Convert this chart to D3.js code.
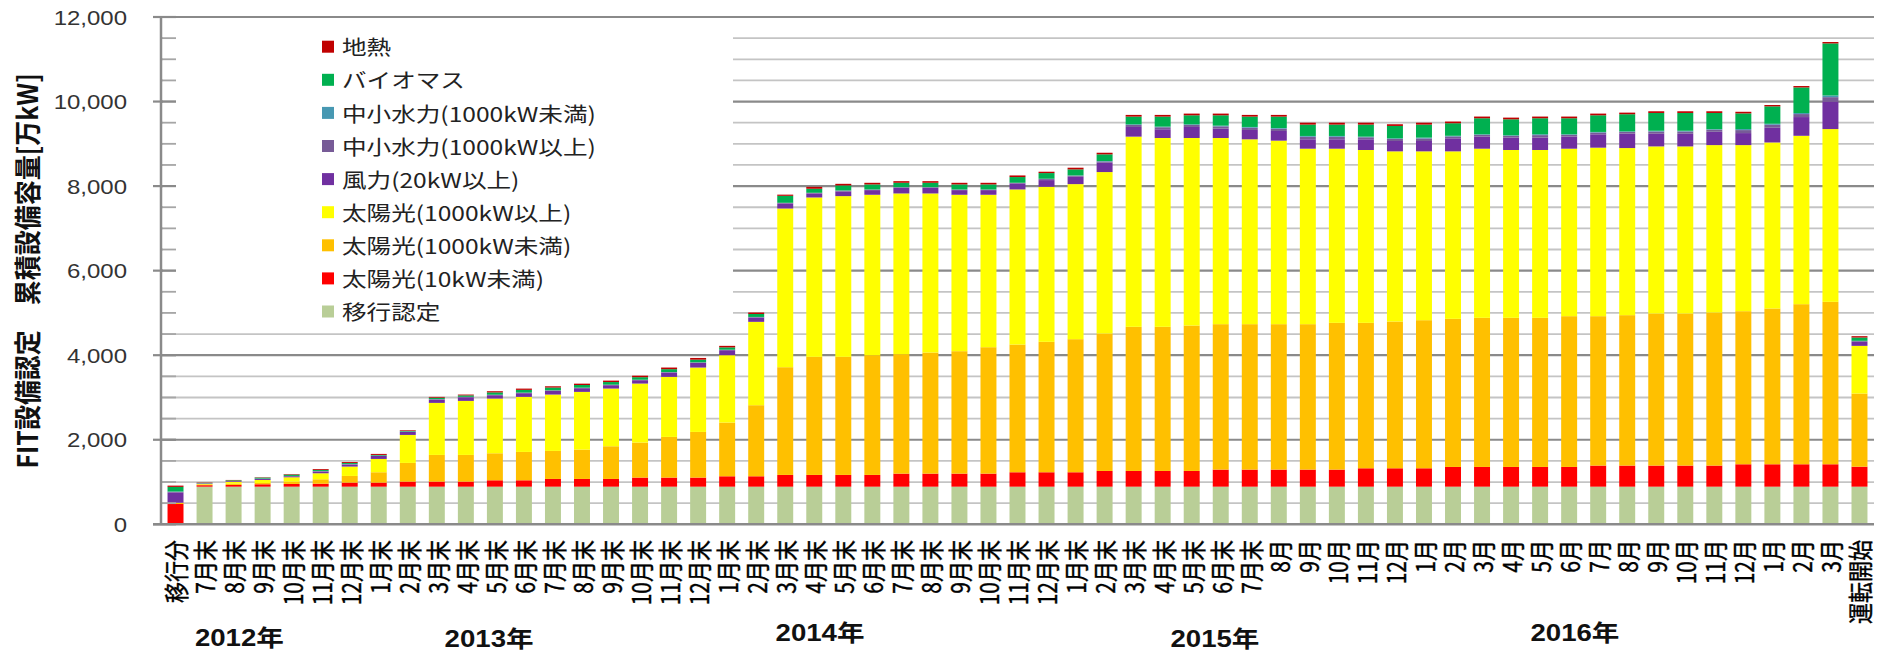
<!DOCTYPE html>
<html><head><meta charset="utf-8">
<script src="https://cdn.jsdelivr.net/npm/d3@7"></script>
<style>body{margin:0;background:#fff}</style>
</head><body>
<svg id="c" width="1887" height="651"></svg>
<script>
const categories = ["移行分","7月末","8月末","9月末","10月末","11月末","12月末","1月末","2月末","3月末","4月末","5月末","6月末","7月末","8月末","9月末","10月末","11月末","12月末","1月末","2月末","3月末","4月末","5月末","6月末","7月末","8月末","9月末","10月末","11月末","12月末","1月末","2月末","3月末","4月末","5月末","6月末","7月末","8月","9月","10月","11月","12月","1月","2月","3月","4月","5月","6月","7月","8月","9月","10月","11月","12月","1月","2月","3月","運転開始"];
const seriesNames = ["移行認定","太陽光(10kW未満)","太陽光(1000kW未満)","太陽光(1000kW以上)","風力(20kW以上)","中小水力(1000kW以上)","中小水力(1000kW未満)","バイオマス","地熱"];
const ikou = [0,890,890,890,890,890,890,890,890,890,890,890,890,890,890,890,890,890,890,890,890,890,890,890,890,890,890,890,890,890,890,890,890,890,890,890,890,890,890,890,890,890,890,890,890,890,890,890,890,890,890,890,890,890,890,890,890,890,890];
const solar10 = [480,35,41,57,65,70,96,96,120,120,120,151,151,183,183,183,215,215,215,246,246,278,278,278,278,309,309,309,309,341,341,341,372,372,372,372,404,404,404,404,404,435,435,435,467,467,467,467,467,499,499,499,499,499,530,530,530,530,473];
const solarMid = [30,20,32,31,55,105,158,245,442,631,631,639,671,663,694,773,828,962,1080,1270,1681,2548,2793,2793,2832,2825,2864,2896,2990,3021,3085,3148,3251,3409,3409,3440,3440,3440,3440,3440,3471,3440,3472,3503,3503,3527,3527,3527,3566,3534,3558,3597,3597,3621,3621,3685,3787,3842,1730];
const solarLarge = [0,10,39,71,102,142,221,315,662,1231,1278,1294,1302,1333,1365,1365,1396,1420,1523,1594,1972,3754,3770,3802,3795,3802,3763,3700,3606,3669,3668,3668,3819,4499,4467,4436,4404,4373,4341,4151,4120,4089,4025,3994,3962,4001,3970,3970,3962,3986,3953,3953,3953,3960,3929,3927,3983,4087,1128];
const wind = [245,10,16,24,24,40,47,71,71,78,86,79,87,87,87,79,79,103,111,118,101,119,95,111,110,134,134,110,110,142,158,174,221,229,206,261,222,221,229,222,222,253,245,245,308,285,292,292,285,316,340,299,299,315,284,348,443,653,95];
const hydroLarge = [12,5,6,6,6,11,12,6,8,9,8,9,11,11,10,10,9,9,10,9,11,12,12,17,12,12,12,12,12,12,24,24,30,48,48,48,53,53,53,60,60,48,48,60,45,42,42,60,42,42,41,53,53,48,71,71,71,102,18];
const hydroSmall = [8,2,2,2,2,4,4,2,2,3,2,3,3,3,3,3,3,3,3,3,4,4,4,6,4,4,4,4,4,4,8,8,10,15,15,15,17,18,17,19,19,15,15,20,15,14,14,20,14,14,14,18,18,15,24,24,24,40,6];
const biomass = [110,8,15,24,32,24,24,16,15,33,35,55,65,65,63,62,60,68,63,55,70,165,95,119,119,103,103,119,119,135,134,142,158,182,237,213,245,245,270,269,269,285,293,308,297,379,378,379,379,394,405,421,421,382,371,411,606,1231,78];
const geothermal = [30,8,8,8,12,20,22,24,15,19,19,28,30,30,32,34,36,38,40,36,35,28,45,38,38,38,38,38,38,38,32,40,38,40,40,40,40,40,40,45,45,45,40,45,40,40,40,40,40,40,38,40,40,40,38,32,33,33,32];
const yTicks = [0,2000,4000,6000,8000,10000,12000];
const yearLabels = ["2012年","2013年","2014年","2015年","2016年"];

// layout (not data)
const yearPos = [2.2, 10.8, 22.2, 35.8, 48.2];
const yearBase = [646, 647, 641, 647, 641];
const colors = ["#B9CE97","#FF0000","#FFC000","#FFFF00","#7030A0","#775B97","#4798B2","#00B050","#C00000"];

const seriesArrays = [ikou, solar10, solarMid, solarLarge, wind, hydroLarge, hydroSmall, biomass, geothermal];
const rows = categories.map((c, i) => {
  const r = {i};
  seriesNames.forEach((s, k) => r[s] = seriesArrays[k][i]);
  return r;
});

const svg = d3.select("#c");
svg.append("rect").attr("width",1887).attr("height",651).attr("fill","#fff");

const X0 = 161, X1 = 1874;
const x = d3.scaleBand().domain(d3.range(categories.length)).range([X0, X1]).paddingInner(0.45).paddingOuter(0.225);
const y = d3.scaleLinear().domain([0, 12000]).range([524.3, 17]);

// gridlines
const gridVals = d3.range(500, 12001, 500);
svg.append("g").selectAll("line").data(gridVals).join("line")
  .attr("x1", X0).attr("x2", X1)
  .attr("y1", d => y(d)).attr("y2", d => y(d))
  .attr("stroke", d => d % 2000 === 0 ? "#8a8a8a" : "#c4c4c4")
  .attr("stroke-width", d => d % 2000 === 0 ? 2.2 : 1.8);

// legend backdrop
svg.append("rect").attr("x", X0 + 2).attr("y", 21).attr("width", 570).attr("height", 304).attr("fill", "#fff");

// bars
const stacked = d3.stack().keys(seriesNames)(rows);
svg.append("g").selectAll("g").data(stacked).join("g")
  .attr("fill", (d, k) => colors[k])
  .selectAll("rect").data(d => d).join("rect")
  .attr("x", (d, i) => x(i)).attr("width", x.bandwidth())
  .attr("y", d => y(d[1])).attr("height", d => Math.max(0, y(d[0]) - y(d[1])));

// minor ticks (inside)
svg.append("g").selectAll("line").data(gridVals).join("line")
  .attr("x1", X0).attr("x2", X0 + 15)
  .attr("y1", d => y(d)).attr("y2", d => y(d))
  .attr("stroke", "#a6a6a6").attr("stroke-width", 1.8);
// major ticks
svg.append("g").selectAll("line").data(yTicks).join("line")
  .attr("x1", X0 - 8).attr("x2", X0 + 15)
  .attr("y1", d => y(d)).attr("y2", d => y(d))
  .attr("stroke", "#8a8a8a").attr("stroke-width", 2.2);

// axis lines
svg.append("line").attr("x1", X0).attr("x2", X0).attr("y1", y(12000)).attr("y2", y(0))
  .attr("stroke", "#8a8a8a").attr("stroke-width", 2.5);
svg.append("line").attr("x1", X0 - 8).attr("x2", X1).attr("y1", y(0)).attr("y2", y(0))
  .attr("stroke", "#8a8a8a").attr("stroke-width", 2.5);

// y axis labels via d3 axis
const gA = svg.append("g").attr("transform", `translate(${X0},0)`)
  .call(d3.axisLeft(y).tickValues(yTicks).tickFormat(d3.format(",")).tickSize(0).tickPadding(0));
gA.select(".domain").remove();
gA.selectAll(".tick line").remove();
gA.attr("font-family", "'Liberation Sans', Arial, sans-serif").attr("font-size", 20);
gA.selectAll("text").attr("x", null).attr("dy", "0.36em")
  .attr("transform", "translate(-34,0) scale(1.2,1)").attr("fill", "#333").attr("text-anchor", "end");

// x category labels (rotated -90, reading upward, anchored at top)
svg.append("g").selectAll("text").data(categories).join("text")
  .attr("transform", (d, i) => `translate(${x(i) + x.bandwidth() / 2},540) scale(1.2,1) rotate(-90)`)
  .attr("text-anchor", "end").attr("dominant-baseline", "central")
  .attr("font-family", "'Noto Sans CJK JP', sans-serif")
  .attr("font-size", 21).attr("fill", "#000")
  .attr("stroke", "#000").attr("stroke-width", 0.35)
  .text(d => d);

// year labels
const step = x.step();
svg.append("g").selectAll("text").data(yearLabels).join("text")
  .attr("transform", (d, k) => `translate(${x(0) + x.bandwidth() / 2 + yearPos[k] * step},${yearBase[k]}) scale(1.2,1)`)
  .attr("text-anchor", "middle")
  .attr("font-family", "'Liberation Sans', 'Noto Sans CJK JP', sans-serif")
  .attr("font-weight", "bold").attr("font-size", 23).attr("fill", "#111")
  .text(d => d);

// y title
svg.append("text")
  .attr("transform", "translate(26,271) scale(1.1,1) rotate(-90)")
  .attr("text-anchor", "middle").attr("dominant-baseline", "central")
  .attr("font-family", "'Noto Sans CJK JP', sans-serif")
  .attr("font-weight", "bold").attr("font-size", 25).attr("fill", "#111")
  .text("FIT設備認定　累積設備容量[万kW]");

// legend
const legendItems = seriesNames.map((s, k) => ({name: s, color: colors[k]})).reverse();
const lg = svg.append("g");
const li = lg.selectAll("g").data(legendItems).join("g")
  .attr("transform", (d, k) => `translate(322,${46.7 + k * 33.1})`);
li.append("rect").attr("x", 0).attr("y", -6).attr("width", 12).attr("height", 12).attr("fill", d => d.color);
li.append("text").attr("transform", "translate(20,0) scale(1.2,1)")
  .attr("dominant-baseline", "central")
  .attr("font-family", "'Noto Sans CJK JP', sans-serif")
  .attr("font-size", 20.5).attr("fill", "#222")
  .text(d => d.name);
</script>
</body></html>
